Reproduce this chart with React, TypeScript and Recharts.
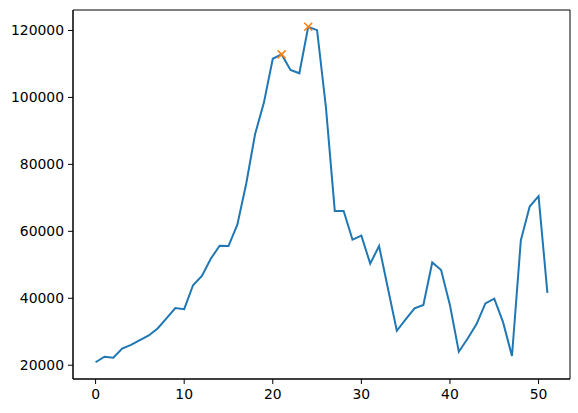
import React from "react";
import { LineChart, Line, XAxis, YAxis, ReferenceArea } from "recharts";

// weekly values
const values = [
  20900, 22560, 22270, 24950, 26100, 27500, 28900, 31000, 34000, 37100,
  36750, 43900, 46700, 51800, 55700, 55600, 62000, 74200, 89000, 98450,
  111550, 112850, 108200, 107200, 121100, 120100, 97000, 66100, 66100, 57500,
  58700, 50350, 55600, 42900, 30300, 33700, 37000, 38000, 50700, 48450,
  37950, 24050, 28000, 32300, 38450, 39900, 32800, 22750, 57300, 67400,
  70500, 41600,
];
const peakIndices = [21, 24];
const xTicks = [0, 10, 20, 30, 40, 50];
const yTicks = [20000, 40000, 60000, 80000, 100000, 120000];

const X_DOMAIN: [number, number] = [-2.55, 53.55];
const Y_DOMAIN: [number, number] = [15890, 126110];

const data = values.map((v, i) => ({
  x: i,
  value: v,
  peak: peakIndices.includes(i) ? v : null,
}));

const font = "'DejaVu Sans', sans-serif";

function XMarker(props: any) {
  const { cx, cy, payload } = props;
  if (payload == null || payload.peak == null || cx == null || cy == null) return null;
  const r = 4;
  return (
    <g key={`m-${payload.x}`}>
      <line x1={cx - r} y1={cy - r} x2={cx + r} y2={cy + r} stroke="#ff7f0e" strokeWidth={1.5} />
      <line x1={cx - r} y1={cy + r} x2={cx + r} y2={cy - r} stroke="#ff7f0e" strokeWidth={1.5} />
    </g>
  );
}

export default function App() {
  return (
    <div style={{ position: "absolute", left: 0, top: 0, background: "#fff" }}>
      <LineChart width={578} height={413} data={data} margin={{ top: 10, right: 8, left: 0, bottom: 0 }}>
        <XAxis
          dataKey="x"
          type="number"
          domain={X_DOMAIN}
          ticks={xTicks}
          allowDataOverflow
          height={34}
          stroke="#000"
          tickSize={5}
          tickMargin={5}
          tick={{ fill: "#000", fontSize: 13.9, fontFamily: font }}
        />
        <YAxis
          type="number"
          domain={Y_DOMAIN}
          ticks={yTicks}
          allowDataOverflow
          width={73}
          stroke="#000"
          tickSize={5}
          tickMargin={4}
          tick={{ fill: "#000", fontSize: 13.9, fontFamily: font }}
        />
        <ReferenceArea
          x1={X_DOMAIN[0]}
          x2={X_DOMAIN[1]}
          y1={Y_DOMAIN[0]}
          y2={Y_DOMAIN[1]}
          fill="none"
          stroke="#000"
          strokeWidth={1}
          ifOverflow="visible"
        />
        <Line
          dataKey="value"
          stroke="#1f77b4"
          strokeWidth={2}
          dot={false}
          activeDot={false}
          isAnimationActive={false}
        />
        <Line
          dataKey="peak"
          stroke="none"
          dot={<XMarker />}
          activeDot={false}
          connectNulls={false}
          isAnimationActive={false}
        />
      </LineChart>
    </div>
  );
}
